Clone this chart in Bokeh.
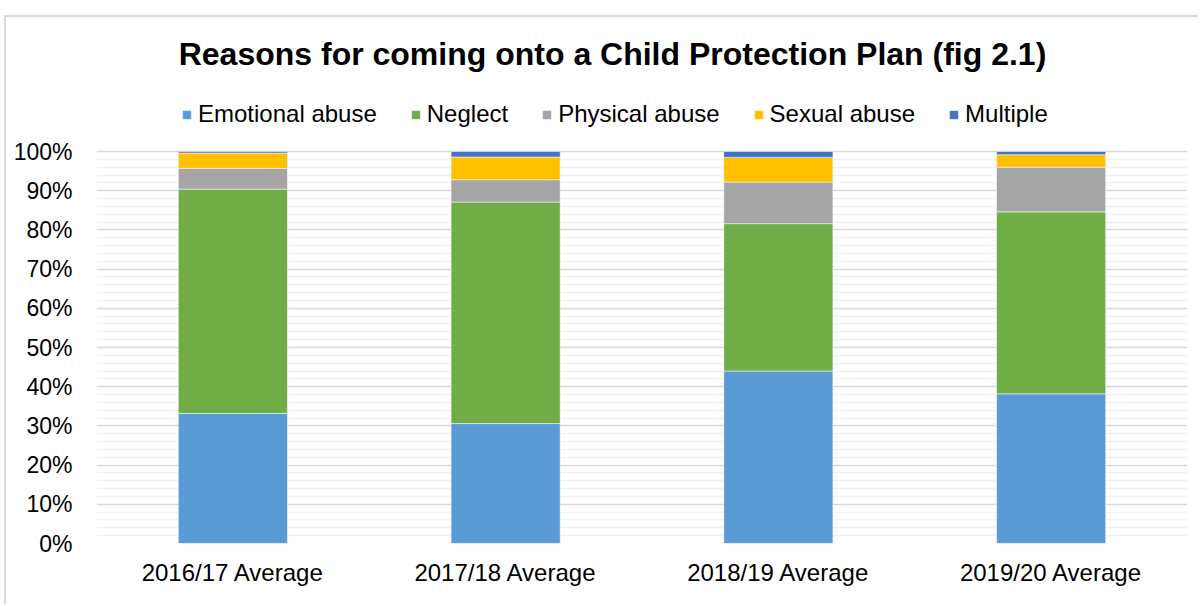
from bokeh.plotting import figure
from bokeh.models import (ColumnDataSource, FactorRange, Legend, LegendItem, Label,
                          NumeralTickFormatter, FixedTicker, Range1d)
from bokeh.embed import file_html
from bokeh.resources import INLINE

categories = ["2016/17 Average", "2017/18 Average", "2018/19 Average", "2019/20 Average"]
series = ["Emotional abuse", "Neglect", "Physical abuse", "Sexual abuse", "Multiple"]
emotional = [0.332, 0.306, 0.440, 0.382]
neglect = [0.572, 0.565, 0.376, 0.464]
physical = [0.053, 0.057, 0.106, 0.114]
sexual = [0.039, 0.058, 0.063, 0.032]
multiple = [0.004, 0.014, 0.015, 0.008]
colors = ["#5B9BD5", "#70AD47", "#A5A5A5", "#FFC000", "#4472C4"]
major_ticks = [i / 10 for i in range(11)]
minor_ticks = [i / 50 for i in range(51) if i % 5]
title_text = "Reasons for coming onto a Child Protection Plan (fig 2.1)"

FONT = "Liberation Sans"

source = ColumnDataSource(data=dict(cat=categories, e=emotional, n=neglect, p=physical,
                                    s=sexual, m=multiple))

W, H = 1194, 589
LEFT, RIGHT, BOTTOM = 90, 13, 63
# frame reaches the canvas top so that title and legend sit inside it; 100% is at 134 px below top
FRAME_H = H - BOTTOM
Y_END = FRAME_H / (FRAME_H - 134)

p = figure(x_range=FactorRange(*categories, range_padding=0), y_range=Range1d(0, Y_END),
           width=W, height=H, output_backend="svg", toolbar_location=None,
           min_border_left=LEFT, min_border_right=RIGHT, min_border_top=0,
           min_border_bottom=BOTTOM)
p.outline_line_color = None
p.background_fill_color = "white"
p.border_fill_color = "white"

renderers = p.vbar_stack(["e", "n", "p", "s", "m"], x="cat", width=0.4, source=source,
                         color=colors, line_color="white", line_alpha=0.5, line_width=1)

ticker = FixedTicker(ticks=major_ticks, minor_ticks=minor_ticks)
p.yaxis.ticker = ticker
p.ygrid.ticker = ticker
p.yaxis.formatter = NumeralTickFormatter(format="0%")
p.ygrid.grid_line_color = "#D9D9D9"
p.ygrid.grid_line_width = 1.5
p.ygrid.minor_grid_line_color = "#F2F2F2"
p.ygrid.minor_grid_line_width = 1.5
p.xgrid.grid_line_color = None

for ax in (p.xaxis, p.yaxis):
    ax.axis_line_color = None
    ax.major_tick_line_color = None
    ax.minor_tick_line_color = None
    ax.major_label_text_font = FONT
    ax.major_label_text_color = "#000000"
p.yaxis.major_label_text_font_size = "23px"
p.xaxis.major_label_text_font_size = "24px"
p.yaxis.major_label_standoff = 18
p.xaxis.major_label_standoff = 9

p.add_layout(Label(x=516, y=FRAME_H - 36, x_units="screen", y_units="screen",
                   text=title_text, text_font=FONT, text_font_size="32px",
                   text_font_style="bold", text_align="center", text_baseline="middle",
                   text_color="#000000"))

items = [LegendItem(label=s, renderers=[r]) for s, r in zip(series, renderers)]
legend = Legend(items=items, orientation="horizontal", location=(85, 415),
                label_text_font=FONT, label_text_font_size="24px", label_text_color="#000000",
                glyph_width=11, glyph_height=11, label_standoff=6, spacing=33,
                padding=0, margin=0, border_line_color=None, background_fill_alpha=0,
                label_height=24)
p.add_layout(legend, "center")

p.margin = (15, 0, 0, 4)
p.styles = {"border-top": "2px solid #D9D9D9", "border-left": "2px solid #D9D9D9"}

open("out.html", "w").write(file_html(p, INLINE))
